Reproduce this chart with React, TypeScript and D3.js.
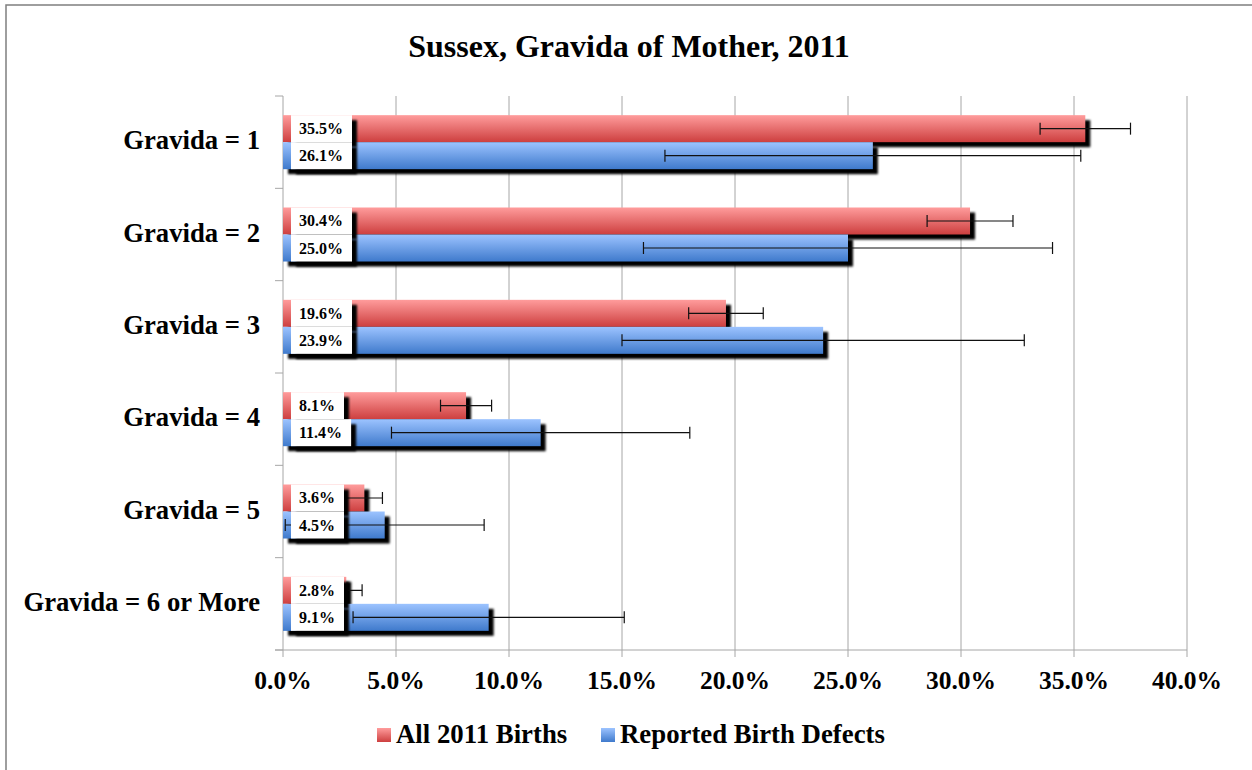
import React, { useEffect, useRef } from 'react';
import * as d3 from 'd3';

// chart data
const categories = ['Gravida = 1', 'Gravida = 2', 'Gravida = 3', 'Gravida = 4', 'Gravida = 5', 'Gravida = 6 or More'];
const seriesNames = ['All 2011 Births', 'Reported Birth Defects'];
const allBirths = [35.5, 30.4, 19.6, 8.1, 3.6, 2.8];
const birthDefects = [26.1, 25.0, 23.9, 11.4, 4.5, 9.1];
const allBirthsErr = [2.0, 1.9, 1.65, 1.13, 0.8, 0.7];
const birthDefectsErr = [9.2, 9.05, 8.9, 6.6, 4.4, 6.0];
const xTicks = [0, 5, 10, 15, 20, 25, 30, 35, 40];

const App = () => {
  const svgRef = useRef<SVGSVGElement>(null);

  useEffect(() => {
    const W = 1252;
    const H = 770;
    const margin = { top: 96, left: 283, right: 65, bottom: 120 };
    const fontFamily = '"Liberation Serif", "Times New Roman", serif';

    const root = d3.select(svgRef.current);
    root.selectAll('*').remove();
    root.attr('width', W).attr('height', H);

    const defs = root.append('defs');
    const grads = [
      { id: 'gradRed', top: '#ff9c9c', bottom: '#cd3f3f' },
      { id: 'gradBlue', top: '#9cc3ff', bottom: '#3f7acc' },
    ];
    grads.forEach(g => {
      const lg = defs.append('linearGradient').attr('id', g.id)
        .attr('x1', 0).attr('y1', 0).attr('x2', 0).attr('y2', 1);
      lg.append('stop').attr('offset', '0%').attr('stop-color', g.top);
      lg.append('stop').attr('offset', '100%').attr('stop-color', g.bottom);
    });
    defs.append('filter').attr('id', 'soft')
      .attr('x', '-10%').attr('y', '-10%').attr('width', '120%').attr('height', '120%')
      .append('feGaussianBlur').attr('stdDeviation', 0.8);

    root.append('rect').attr('width', W).attr('height', H).attr('fill', '#fff');

    // outer frame (cut off on right and bottom)
    root.append('rect')
      .attr('x', 6).attr('y', 5).attr('width', 1400).attr('height', 900)
      .attr('fill', 'none').attr('stroke', '#7f7f7f').attr('stroke-width', 1.5);

    const x = d3.scaleLinear().domain([0, 40]).range([margin.left, W - margin.right]);
    const y = d3.scaleBand<string>().domain(categories)
      .range([margin.top, H - margin.bottom])
      .paddingInner(0.415).paddingOuter(0.2075);
    const bh = y.bandwidth() / 2;

    const gridColor = '#a6a6a6';
    const plotBottom = H - margin.bottom;

    // gridlines
    root.append('g').selectAll('line').data(xTicks.slice(1)).enter().append('line')
      .attr('x1', d => x(d)).attr('x2', d => x(d))
      .attr('y1', margin.top).attr('y2', plotBottom + 7)
      .attr('stroke', gridColor).attr('stroke-width', 1);

    // x axis
    root.append('line')
      .attr('x1', x(0) - 8).attr('x2', x(40)).attr('y1', plotBottom).attr('y2', plotBottom)
      .attr('stroke', gridColor);
    root.append('line')
      .attr('x1', x(0)).attr('x2', x(0)).attr('y1', margin.top).attr('y2', plotBottom + 7)
      .attr('stroke', gridColor);

    // y axis ticks at band boundaries
    const step = y.step();
    const bounds = d3.range(categories.length + 1).map(i => margin.top + i * step);
    root.append('g').selectAll('line').data(bounds).enter().append('line')
      .attr('x1', x(0) - 8).attr('x2', x(0)).attr('y1', d => d).attr('y2', d => d)
      .attr('stroke', gridColor);

    // x tick labels
    root.append('g').selectAll('text').data(xTicks).enter().append('text')
      .attr('x', d => x(d)).attr('y', plotBottom + 39)
      .attr('text-anchor', 'middle')
      .style('font-family', fontFamily).style('font-weight', 'bold').style('font-size', '25.5px')
      .text(d => d3.format('.1f')(d) + '%');

    // category labels
    root.append('g').selectAll('text').data(categories).enter().append('text')
      .attr('x', 260).attr('y', d => (y(d) as number) + bh + 7)
      .attr('text-anchor', 'end')
      .style('font-family', fontFamily).style('font-weight', 'bold').style('font-size', '26.7px')
      .text(d => d);

    const series = [
      { values: allBirths, err: allBirthsErr, fill: 'url(#gradRed)', off: 0 },
      { values: birthDefects, err: birthDefectsErr, fill: 'url(#gradBlue)', off: bh },
    ];

    // bar shadows
    series.forEach(s => {
      root.append('g').selectAll('rect').data(s.values).enter().append('rect')
        .attr('x', x(0) + 5)
        .attr('y', (d, i) => (y(categories[i]) as number) + s.off + 5)
        .attr('width', d => x(d) - x(0))
        .attr('height', bh)
        .attr('fill', '#000').attr('filter', 'url(#soft)');
    });

    // bars
    series.forEach(s => {
      root.append('g').selectAll('rect').data(s.values).enter().append('rect')
        .attr('x', x(0))
        .attr('y', (d, i) => (y(categories[i]) as number) + s.off)
        .attr('width', d => x(d) - x(0))
        .attr('height', bh)
        .attr('fill', s.fill);
    });

    // error bars
    series.forEach(s => {
      const g = root.append('g').attr('stroke', '#111').attr('stroke-width', 1.2);
      s.values.forEach((v, i) => {
        const cy = (y(categories[i]) as number) + s.off + bh / 2;
        const lo = x(v - s.err[i]);
        const hi = x(v + s.err[i]);
        g.append('line').attr('x1', lo).attr('x2', hi).attr('y1', cy).attr('y2', cy);
        g.append('line').attr('x1', lo).attr('x2', lo).attr('y1', cy - 6).attr('y2', cy + 6);
        g.append('line').attr('x1', hi).attr('x2', hi).attr('y1', cy - 6).attr('y2', cy + 6);
      });
    });

    // data labels with white boxes
    series.forEach(s => {
      s.values.forEach((v, i) => {
        const top = (y(categories[i]) as number) + s.off;
        const g = root.append('g');
        const shadow = g.append('rect');
        const box = g.append('rect');
        const t = g.append('text')
          .attr('x', x(0) + 16).attr('y', top + bh / 2 + 5.5)
          .style('font-family', fontFamily).style('font-weight', 'bold').style('font-size', '16px')
          .text(d3.format('.1f')(v) + '%');
        const tw = (t.node() as SVGTextElement).getComputedTextLength();
        const bw = tw + 17;
        shadow.attr('x', x(0) + 13).attr('y', top + 5).attr('width', bw).attr('height', bh)
          .attr('fill', '#000').attr('filter', 'url(#soft)');
        box.attr('x', x(0) + 8).attr('y', top).attr('width', bw).attr('height', bh).attr('fill', '#fff');
      });
    });

    // title
    root.append('text')
      .attr('x', 629).attr('y', 57).attr('text-anchor', 'middle')
      .style('font-family', fontFamily).style('font-weight', 'bold').style('font-size', '32px')
      .text('Sussex, Gravida of Mother, 2011');

    // legend
    const legendItems = [
      { name: seriesNames[0], fill: 'url(#gradRed)', x: 377 },
      { name: seriesNames[1], fill: 'url(#gradBlue)', x: 601 },
    ];
    const lg = root.append('g');
    legendItems.forEach(it => {
      lg.append('rect').attr('x', it.x).attr('y', 728).attr('width', 14).attr('height', 14).attr('fill', it.fill);
      lg.append('text').attr('x', it.x + 19).attr('y', 743)
        .style('font-family', fontFamily).style('font-weight', 'bold').style('font-size', '26.8px')
        .text(it.name);
    });
  }, []);

  return <svg ref={svgRef} style={{ position: 'absolute', left: 0, top: 0 }}></svg>;
};

export default App;
